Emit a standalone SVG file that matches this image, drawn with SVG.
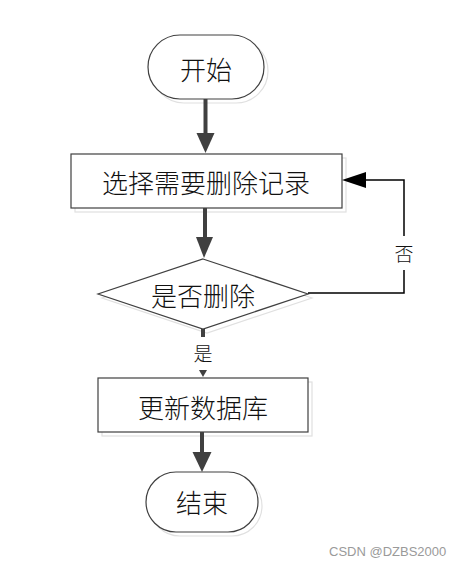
<svg xmlns="http://www.w3.org/2000/svg" width="462" height="567" viewBox="0 0 462 567">
<style>
.shape{fill:#ffffff;stroke:#404040;stroke-width:1.2}
.shadow{fill:none;stroke:#e0e0e0;stroke-width:1.2}
.label{font-family:"Noto Sans CJK SC","Liberation Sans",sans-serif;font-size:26px;font-weight:300;fill:#111;text-anchor:middle;dominant-baseline:central}
.small{font-family:"Noto Sans CJK SC","Liberation Sans",sans-serif;font-size:19px;font-weight:300;fill:#111;text-anchor:middle;dominant-baseline:central}
.thick{stroke:#404040;stroke-width:4;fill:none}
.thin{stroke:#000;stroke-width:1.5;fill:none}
.head{fill:#404040}
.wm{font-family:"Liberation Sans",Arial,sans-serif;font-size:13px;fill:#9a9a9a}
</style>
<rect width="462" height="567" fill="#ffffff"/>
<g id="start">
<rect class="shadow" x="152" y="39" width="116" height="64" rx="32"/>
<rect class="shape" x="148" y="35" width="116" height="64" rx="32"/>
<text class="label" x="206" y="68">开始</text>
</g>
<g id="select">
<rect class="shadow" x="75" y="158" width="271" height="54"/>
<rect class="shape" x="71" y="154" width="271" height="54"/>
<text class="label" x="206" y="181">选择需要删除记录</text>
</g>
<g id="decide">
<polygon class="shadow" points="207,263 312,298 207,333 102,298"/>
<polygon class="shape" points="203,259 308,294 203,329 98,294"/>
<text class="label" x="203" y="294">是否删除</text>
</g>
<g id="update">
<rect class="shadow" x="102" y="382" width="210" height="54"/>
<rect class="shape" x="98" y="378" width="210" height="54"/>
<text class="label" x="203" y="406">更新数据库</text>
</g>
<g id="end">
<rect class="shadow" x="150" y="476" width="112" height="60" rx="30"/>
<rect class="shape" x="146" y="472" width="112" height="60" rx="30"/>
<text class="label" x="202" y="501">结束</text>
</g>
<g id="connectors">
<line class="thick" x1="205.5" y1="99" x2="205.5" y2="135"/>
<polygon class="head" points="196.5,133 214.5,133 205.5,153"/>
<line class="thick" x1="205" y1="208" x2="205" y2="239"/>
<polygon class="head" points="196,237 213,237 204,258"/>
<line class="thick" x1="203" y1="329" x2="203" y2="337"/>
<polygon class="head" points="199,370 207,370 203,377"/>
<text class="small" x="203" y="352">是</text>
<line class="thick" x1="202" y1="432" x2="202" y2="454"/>
<polygon class="head" points="192.5,452 211.5,452 202,472"/>
<polyline class="thin" points="308,293 404,293 404,270"/>
<polyline class="thin" points="404,236 404,180 364,180"/>
<polygon fill="#000" points="342,180 366,172 366,188"/>
<text class="small" x="404" y="252">否</text>
</g>
<text class="wm" x="329" y="556">CSDN @DZBS2000</text>
</svg>
